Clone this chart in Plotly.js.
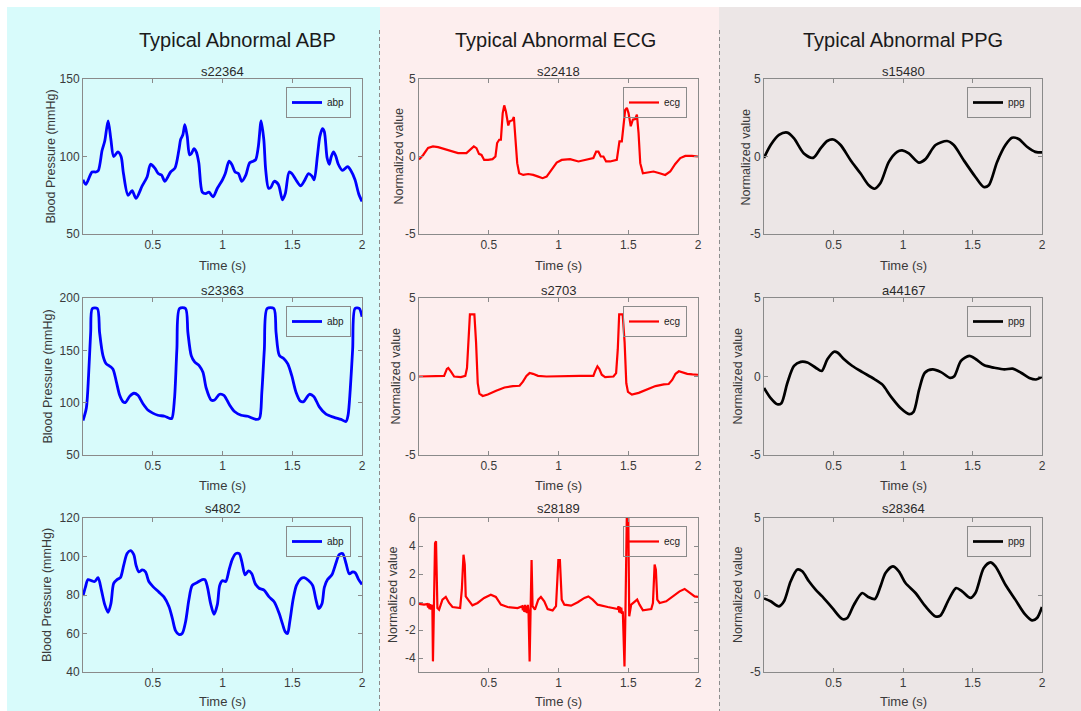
<!DOCTYPE html>
<html><head><meta charset="utf-8">
<script src="https://cdn.plot.ly/plotly-3.0.1.min.js"></script>
<style>html,body{margin:0;padding:0;background:#fff}#chart{width:1081px;height:711px}</style>
</head><body><div id="chart"></div>
<script>
// ---------------- DATA ----------------
const columnTitles = ['Typical Abnormal ABP', 'Typical Abnormal ECG', 'Typical Abnormal PPG'];
const signalNames = ['abp', 'ecg', 'ppg'];
const recordNames = [['s22364', 's23363', 's4802'], ['s22418', 's2703', 's28189'], ['s15480', 'a44167', 's28364']];
const yLabels = ['Blood Pressure (mmHg)', 'Normalized value', 'Normalized value'];
const xLabel = 'Time (s)';
const xTickVals = [0.5, 1, 1.5, 2];
const xTickText = ['0.5', '1', '1.5', '2'];
const xRange = [0, 2];
const yTickVals = [
  [[50, 100, 150], [50, 100, 150, 200], [40, 60, 80, 100, 120]],
  [[-5, 0, 5], [-5, 0, 5], [-4, -2, 0, 2, 4, 6]],
  [[-5, 0, 5], [-5, 0, 5], [-5, 0, 5]]
];
const yTickText = [
  [['50', '100', '150'], ['50', '100', '150', '200'], ['40', '60', '80', '100', '120']],
  [['-5', '0', '5'], ['-5', '0', '5'], ['-4', '-2', '0', '2', '4', '6']],
  [['-5', '0', '5'], ['-5', '0', '5'], ['-5', '0', '5']]
];
const yRanges = [
  [[50, 150], [50, 200], [40, 120]],
  [[-5, 5], [-5, 5], [-5, 6]],
  [[-5, 5], [-5, 5], [-5, 5]]
];

// ABP s22364
const abp1_t = [0,0.02,0.065,0.093,0.11,0.137,0.156,0.18,0.2,0.22,0.25,0.273,0.29,0.323,0.352,0.38,0.424,0.46,0.484,0.515,0.539,0.563,0.587,0.628,0.659,0.687,0.7,0.716,0.73,0.747,0.764,0.778,0.795,0.812,0.83,0.855,0.879,0.903,0.932,0.963,1.0,1.02,1.047,1.066,1.09,1.114,1.138,1.167,1.195,1.22,1.238,1.257,1.277,1.296,1.31,1.33,1.346,1.37,1.4,1.43,1.45,1.478,1.497,1.526,1.56,1.585,1.617,1.64,1.657,1.68,1.698,1.717,1.73,1.75,1.765,1.78,1.796,1.813,1.83,1.86,1.897,1.92,1.95,1.976,2.0];
const abp1_v = [85,82,90,90,91,104,110,123,111,100,103,100,89,75,78,73,81,87,95,92.5,89,88,84,90,92.5,104,111,114,120.5,113,101,102,105,103,96,77,76,77,74,79.5,85,89,97,95,90,89,84,88,96,97,98,106.5,123,111,91,79.5,80,84,82,72,76,90,89,85,81,84,89,87.5,85,100,113,118,116,99,95,100,103,100,95,91,93.5,91,85,76,71];
// ABP s23363
const abp2_t = [0,0.024,0.04,0.055,0.067,0.103,0.119,0.143,0.167,0.19,0.215,0.239,0.263,0.286,0.303,0.334,0.365,0.394,0.43,0.465,0.5,0.537,0.585,0.62,0.637,0.656,0.673,0.692,0.735,0.752,0.776,0.8,0.835,0.86,0.883,0.919,0.943,0.979,1.01,1.05,1.086,1.134,1.181,1.241,1.265,1.282,1.3,1.32,1.368,1.384,1.408,1.44,1.468,1.496,1.527,1.558,1.582,1.623,1.654,1.694,1.742,1.8,1.85,1.885,1.9,1.916,1.933,1.95,1.98,2.0];
const abp2_v = [83,95,126,167,190,190,167,145,137,135,132,120,107,101,100,106,109,107,99,93,90,88,87,85,85,104,151,190,190,167,145,139,135,129,114,102.5,102.5,108,107,98,91.5,88,87,84,85,110,151,190,190,167,145,142,137,126,110,101.5,101,108,106,96,89,86,84,82,88,113,151,190,190,182];
// ABP s4802
const abp3_t = [0,0.017,0.036,0.06,0.084,0.108,0.132,0.156,0.18,0.2,0.22,0.244,0.268,0.292,0.316,0.34,0.364,0.38,0.4,0.424,0.448,0.472,0.5,0.544,0.58,0.616,0.64,0.663,0.687,0.711,0.735,0.759,0.783,0.819,0.855,0.874,0.891,0.915,0.939,0.963,0.98,1.0,1.023,1.047,1.07,1.095,1.12,1.138,1.162,1.186,1.21,1.234,1.262,1.298,1.334,1.37,1.406,1.43,1.449,1.466,1.482,1.507,1.53,1.562,1.586,1.617,1.646,1.67,1.689,1.713,1.73,1.753,1.784,1.813,1.837,1.861,1.885,1.909,1.933,1.952,1.976,2.0];
const abp3_v = [79.5,84,88,87.5,87,89,82.5,75,71,75.5,86,88,89,95.5,101.5,103,101,95.5,92,93,92,87,84.5,81.5,79,74,68,61.5,59.5,60,66,77.5,85,86.5,88,88,84.5,75.5,70,75,85,87.5,87,93,98.5,101.5,101.5,97.5,90.5,92.5,91,86,83.5,82.5,79,76.5,70.5,65,61,60,66,78,85,88.5,89,87.5,85,77.5,73,75.5,84,88,90.5,96.5,101,101.5,96.5,91,92,91.5,88,85.5];

// ECG s22418
const ecg1_t = [0,0.03,0.065,0.1,0.137,0.184,0.232,0.28,0.34,0.369,0.393,0.412,0.43,0.448,0.467,0.496,0.527,0.548,0.56,0.575,0.587,0.6,0.611,0.623,0.64,0.65,0.67,0.68,0.69,0.704,0.718,0.747,0.783,0.819,0.855,0.886,0.915,0.951,0.987,1.023,1.083,1.143,1.202,1.25,1.27,1.286,1.303,1.322,1.341,1.37,1.418,1.437,1.454,1.466,1.478,1.49,1.502,1.518,1.533,1.55,1.562,1.574,1.586,1.605,1.634,1.681,1.725,1.765,1.801,1.837,1.873,1.909,1.957,2.0];
const ecg1_v = [-0.2,0.1,0.55,0.65,0.6,0.48,0.32,0.22,0.22,0.43,0.65,0.54,0.17,0.1,-0.22,-0.22,-0.17,0,0.87,1.08,1.08,2.8,3.3,2.9,2.0,2.27,2.34,2.55,1.5,-0.43,-1.08,-1.19,-1.13,-1.19,-1.3,-1.4,-1.3,-0.82,-0.39,-0.22,-0.17,-0.32,-0.22,-0.1,0.32,0.32,0,0,-0.32,-0.32,-0.22,0.97,0.97,1.84,3.0,3.14,2.8,1.95,2.38,2.42,2.7,1.5,-0.43,-1.08,-1.04,-0.97,-1.08,-1.19,-0.97,-0.48,-0.1,0.04,0.04,0];
// ECG s2703
const ecg2_t = [0,0.168,0.18,0.2,0.21,0.228,0.252,0.3,0.332,0.344,0.356,0.365,0.397,0.409,0.421,0.433,0.457,0.493,0.553,0.613,0.673,0.721,0.745,0.77,0.793,0.817,0.853,0.913,1.154,1.25,1.262,1.279,1.293,1.31,1.334,1.394,1.413,1.425,1.435,1.46,1.474,1.486,1.498,1.526,1.575,1.635,1.695,1.755,1.79,1.815,1.839,1.863,1.887,1.923,1.96,2.0];
const ecg2_v = [0,0,0.04,0.48,0.54,0.33,0,-0.04,0.04,0.54,2.83,3.96,3.96,2.17,-0.43,-1.09,-1.24,-1.15,-0.91,-0.7,-0.61,-0.59,-0.33,0.04,0.22,0.17,0.04,0,0.04,0.04,0.33,0.65,0.48,0.11,-0.04,0,0.22,1.74,3.96,3.96,2.17,-0.43,-0.98,-1.15,-1.04,-0.83,-0.61,-0.5,-0.48,-0.22,0.17,0.33,0.26,0.17,0.13,0.11];
// ECG s28189
const ecg3_t = [0,0.036,0.06,0.065,0.07,0.075,0.08,0.085,0.09,0.096,0.1,0.108,0.115,0.122,0.132,0.144,0.168,0.192,0.216,0.24,0.295,0.307,0.319,0.328,0.335,0.352,0.383,0.42,0.467,0.515,0.551,0.587,0.635,0.707,0.74,0.745,0.75,0.755,0.76,0.765,0.77,0.775,0.78,0.785,0.793,0.8,0.807,0.814,0.831,0.855,0.874,0.898,0.922,0.958,0.982,0.999,1.01,1.023,1.042,1.09,1.138,1.186,1.214,1.245,1.281,1.353,1.425,1.43,1.435,1.44,1.445,1.45,1.455,1.461,1.473,1.48,1.49,1.5,1.507,1.521,1.545,1.564,1.581,1.605,1.665,1.677,1.689,1.698,1.708,1.725,1.772,1.82,1.868,1.904,1.94,1.976,2.0];
const ecg3_v = [-0.14,-0.19,-0.15,-0.4,-0.1,-0.5,-0.15,-0.55,-0.2,-0.45,-4.24,-0.3,4.2,4.33,-0.43,-0.55,0.17,0.36,-0.07,-0.36,-0.43,0.88,3.38,2.67,0.4,0.17,-0.24,-0.07,0.29,0.52,0.36,-0.19,-0.36,-0.43,-0.3,-0.6,-0.25,-0.7,-0.2,-0.75,-0.3,-0.8,-0.2,-0.67,-4.24,-0.55,3.0,-0.3,-0.55,0.17,0.36,0.05,-0.5,-0.6,-0.3,3.0,3.0,0.17,-0.19,-0.26,-0.02,0.29,0.4,0.17,-0.19,-0.36,-0.5,-0.3,-0.75,-0.35,-0.8,-0.4,-0.85,-0.67,-4.6,-0.67,6.4,6.4,-1.02,-0.19,0.05,0.17,-0.19,-0.6,-0.5,-0.07,2.67,2.31,0.17,-0.07,0.05,0.4,0.76,0.93,0.64,0.4,0.36];

// PPG s15480
const ppg1_t = [0,0.048,0.108,0.168,0.216,0.287,0.354,0.407,0.455,0.498,0.551,0.623,0.695,0.754,0.795,0.838,0.898,0.958,0.994,1.042,1.114,1.162,1.234,1.317,1.365,1.437,1.521,1.581,1.617,1.677,1.737,1.784,1.832,1.892,1.952,2.0];
const ppg1_v = [-0.09,0.74,1.39,1.54,1.17,0.2,-0.09,0.52,1.0,1.1,0.74,-0.24,-1.1,-1.86,-2.08,-1.71,-0.35,0.3,0.39,0.2,-0.39,-0.17,0.74,1.0,0.74,-0.24,-1.32,-1.97,-1.86,-0.35,0.74,1.21,1.13,0.63,0.3,0.26];
// PPG a44167
const ppg2_t = [0,0.048,0.096,0.125,0.168,0.216,0.264,0.312,0.372,0.415,0.456,0.504,0.528,0.576,0.636,0.708,0.792,0.852,0.912,0.984,1.044,1.076,1.116,1.157,1.213,1.273,1.34,1.369,1.417,1.477,1.525,1.585,1.657,1.729,1.789,1.849,1.909,1.957,2.0];
const ppg2_v = [-0.73,-1.38,-1.77,-1.7,-0.41,0.67,0.93,0.89,0.56,0.35,1.1,1.58,1.53,1.1,0.67,0.28,-0.15,-0.52,-1.27,-2.03,-2.4,-2.25,-0.84,0.24,0.45,0.28,-0.09,0.02,0.99,1.32,1.1,0.71,0.56,0.45,0.5,0.24,-0.09,-0.19,-0.02];
// PPG s28364
const ppg3_t = [0,0.048,0.108,0.144,0.192,0.24,0.275,0.323,0.371,0.419,0.491,0.563,0.599,0.647,0.707,0.75,0.798,0.838,0.874,0.927,0.97,1.018,1.09,1.162,1.234,1.269,1.329,1.382,1.425,1.485,1.521,1.581,1.629,1.665,1.737,1.808,1.88,1.928,1.964,2.0];
const ppg3_v = [-0.22,-0.41,-0.74,-0.41,0.89,1.65,1.54,0.89,0.35,-0.09,-0.84,-1.56,-1.49,-0.63,0.13,-0.13,-0.26,0.56,1.43,1.86,1.54,0.78,0.13,-0.74,-1.39,-1.34,-0.3,0.45,0.24,-0.19,0.13,1.75,2.12,1.86,0.67,-0.3,-1.28,-1.65,-1.49,-0.78];

const seriesT = [[abp1_t, abp2_t, abp3_t], [ecg1_t, ecg2_t, ecg3_t], [ppg1_t, ppg2_t, ppg3_t]];
const seriesV = [[abp1_v, abp2_v, abp3_v], [ecg1_v, ecg2_v, ecg3_v], [ppg1_v, ppg2_v, ppg3_v]];

// ---------------- LAYOUT / STYLE ----------------
const W = 1081, H = 711;
const px = x => x / W;
const py = y => 1 - y / H;
const FONT = 'Liberation Sans, Arial, Helvetica, sans-serif';
const colPx = [[83, 362], [419, 698], [764, 1042]];
const rowPx = [[79, 234], [298, 455], [518, 672]];
const lineColors = ['#0000ff', '#ff0000', '#000000'];
const lineWidths = [2.8, 2.2, 2.7];
const lineShapes = ['spline', 'linear', 'spline'];
const colTitleX = [237, 555, 903];
const yLabelX = [[50, 47, 47], [398, 395, 393], [745, 737, 738]];
const subTitleY = [72, 290, 509];
const xLabelY = [265, 485, 701];
const axisColor = '#8a8a8a';
const textColor = '#3a3a3a';

const traces = [];
const layout = {
  width: W, height: H,
  margin: {l: 0, r: 0, t: 0, b: 0, pad: 0},
  paper_bgcolor: '#ffffff',
  plot_bgcolor: 'rgba(0,0,0,0)',
  showlegend: true,
  font: {family: FONT, color: textColor},
  annotations: [],
  shapes: [
    {type: 'rect', xref: 'paper', yref: 'paper', x0: px(7), x1: px(380), y0: py(7), y1: 0, fillcolor: '#d8fbfb', line: {width: 0}, layer: 'below'},
    {type: 'rect', xref: 'paper', yref: 'paper', x0: px(380), x1: px(719), y0: py(7), y1: 0, fillcolor: '#fdeeee', line: {width: 0}, layer: 'below'},
    {type: 'rect', xref: 'paper', yref: 'paper', x0: px(719), x1: 1, y0: py(7), y1: 0, fillcolor: '#ece6e6', line: {width: 0}, layer: 'below'},
    {type: 'line', xref: 'paper', yref: 'paper', x0: px(379.5), x1: px(379.5), y0: py(30), y1: 0, line: {color: '#8c8c8c', width: 1, dash: '4px,3px'}, layer: 'below'},
    {type: 'line', xref: 'paper', yref: 'paper', x0: px(719.5), x1: px(719.5), y0: py(30), y1: 0, line: {color: '#8c8c8c', width: 1, dash: '4px,3px'}, layer: 'below'}
  ]
};

for (let c = 0; c < 3; c++) {
  layout.annotations.push({
    text: columnTitles[c], xref: 'paper', yref: 'paper', x: px(colTitleX[c]), y: py(40),
    xanchor: 'center', yanchor: 'middle', showarrow: false,
    font: {family: FONT, size: 20, color: '#1a1a1a'}
  });
  for (let r = 0; r < 3; r++) {
    const n = r * 3 + c + 1;
    const xa = 'xaxis' + (n === 1 ? '' : n);
    const ya = 'yaxis' + (n === 1 ? '' : n);
    const xid = 'x' + (n === 1 ? '' : n);
    const yid = 'y' + (n === 1 ? '' : n);
    const lg = 'legend' + (n === 1 ? '' : n);
    const [x0, x1] = colPx[c];
    const [y0, y1] = rowPx[r];
    const common = {
      showline: true, linecolor: axisColor, linewidth: 1, mirror: 'ticks',
      ticks: 'inside', ticklen: 4, tickwidth: 1, tickcolor: axisColor,
      showgrid: false, zeroline: false, fixedrange: true,
      tickfont: {family: FONT, size: 12, color: textColor}
    };
    layout[xa] = Object.assign({}, common, {
      domain: [px(x0), px(x1)], anchor: yid, range: xRange,
      tickmode: 'array', tickvals: xTickVals, ticktext: xTickText
    });
    layout[ya] = Object.assign({}, common, {
      domain: [py(y1), py(y0)], anchor: xid, range: yRanges[c][r],
      tickmode: 'array', tickvals: yTickVals[c][r], ticktext: yTickText[c][r]
    });
    traces.push({
      type: 'scatter', mode: 'lines', xaxis: xid, yaxis: yid,
      x: seriesT[c][r], y: seriesV[c][r], name: signalNames[c],
      legend: lg, showlegend: true,
      line: {color: lineColors[c], width: lineWidths[c], shape: lineShapes[c], smoothing: 0.8}
    });
    layout[lg] = {
      x: px(x1 - 11), xanchor: 'right', y: py(y0 + 8), yanchor: 'top',
      bgcolor: 'rgba(0,0,0,0)', bordercolor: axisColor, borderwidth: 1,
      font: {family: FONT, size: 10, color: '#222'}, itemwidth: 30, tracegroupgap: 0
    };
    layout.annotations.push({
      text: recordNames[c][r], xref: 'paper', yref: 'paper', x: px((x0 + x1) / 2), y: py(subTitleY[r]),
      xanchor: 'center', yanchor: 'middle', showarrow: false,
      font: {family: FONT, size: 13, color: '#2a2a2a'}
    });
    layout.annotations.push({
      text: yLabels[c], xref: 'paper', yref: 'paper', x: px(yLabelX[c][r]), y: py((y0 + y1) / 2),
      xanchor: 'center', yanchor: 'middle', textangle: -90, showarrow: false,
      font: {family: FONT, size: 12.5, color: textColor}
    });
    layout.annotations.push({
      text: xLabel, xref: 'paper', yref: 'paper', x: px((x0 + x1) / 2), y: py(xLabelY[r]),
      xanchor: 'center', yanchor: 'middle', showarrow: false,
      font: {family: FONT, size: 13, color: textColor}
    });
  }
}

Plotly.newPlot('chart', traces, layout, {displayModeBar: false, staticPlot: true});
</script>
</body></html>
